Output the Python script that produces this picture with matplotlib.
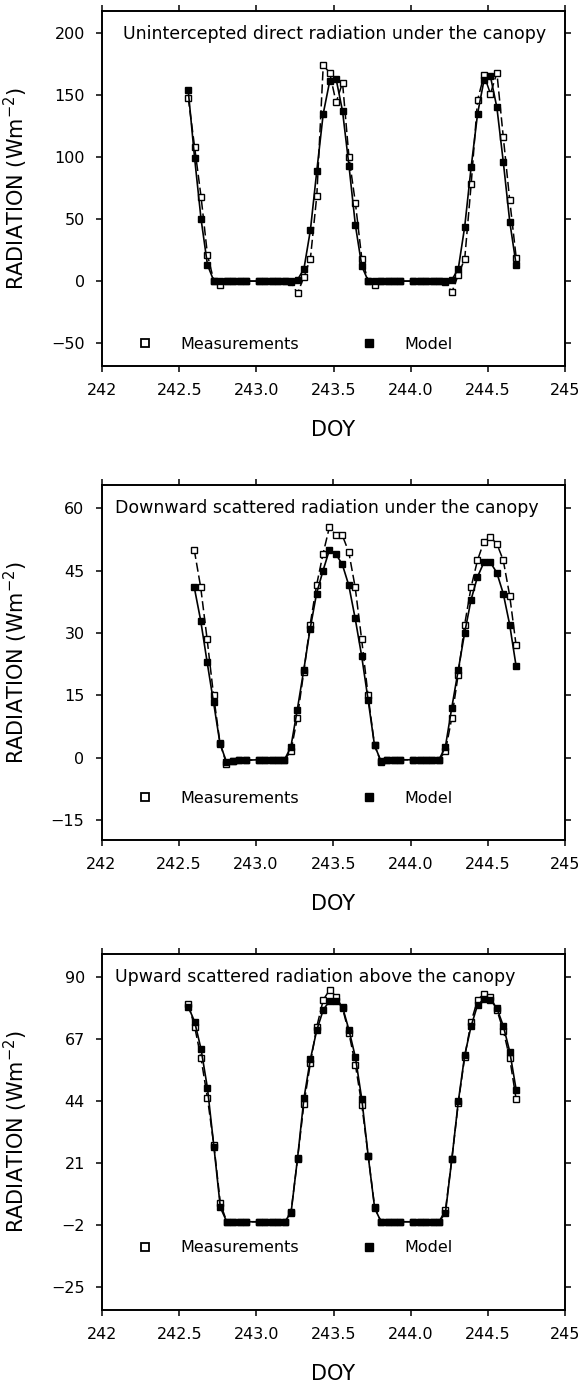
import numpy as np
import matplotlib
matplotlib.use("Agg")
import matplotlib.pyplot as plt
from matplotlib.lines import Line2D

plt.rcParams['font.family'] = ['DejaVu Sans']

# hours since start of DOY 242 (hourly, a few night hours missing)
hours = [13.4, 14.4, 15.4, 16.4, 17.4, 18.4, 19.4, 20.4, 21.4, 22.4,
         24.4, 25.4, 26.4, 27.4, 28.4, 29.4, 30.4, 31.4, 32.4, 33.4,
         34.4, 35.4, 36.4, 37.4, 38.4, 39.4, 40.4, 41.4, 42.4, 43.4,
         44.4, 45.4, 46.4,
         48.4, 49.4, 50.4, 51.4, 52.4, 53.4, 54.4, 55.4, 56.4, 57.4,
         58.4, 59.4, 60.4, 61.4, 62.4, 63.4, 64.4]
doy = 242 + np.array(hours) / 24.0

# unintercepted direct radiation under the canopy
direct_meas = [148, 108, 68, 21, 0, -3, 0, 0, 0, 0,
               0, 0, 0, 0, 0, -1, -10, 3.5, 18, 69,
               174, 168, 144, 160, 100, 63, 18, 0, -3, 0,
               0, 0, 0,
               0, 0, 0, 0, 0, -1, -9, 5, 18, 78,
               146, 166, 151, 168, 116, 65, 19]
direct_model = [154, 99, 50, 13, 0, 0, 0, 0, 0, 0,
                0, 0, 0, 0, 0, 0, 1, 10, 41, 89,
                135, 161, 163, 137, 93, 45, 12, 0, 0, 0,
                0, 0, 0,
                0, 0, 0, 0, 0, 0, 1, 10, 44, 92,
                135, 162, 165, 140, 96, 48, 13]

# downward scattered radiation under the canopy
down_meas = [np.nan, 50, 41, 28.5, 15, 3.5, -1.4, -0.7, -0.6, -0.6,
             -0.5, -0.5, -0.5, -0.5, -0.5, 1.5, 9.5, 20.5, 32, 41.5,
             49, 55.5, 53.5, 53.5, 49.5, 41, 28.5, 15, 3, -1,
             -0.6, -0.6, -0.5,
             -0.5, -0.5, -0.5, -0.5, -0.5, 1.5, 9.5, 20, 32, 41,
             47.5, 52, 53, 51.5, 47.5, 39, 27]
down_model = [np.nan, 41, 33, 23, 13.3, 3.4, -1, -0.7, -0.6, -0.6,
              -0.5, -0.5, -0.5, -0.5, -0.5, 2.5, 11.5, 21, 31, 39.5,
              45, 50, 49, 46.5, 41.5, 33.5, 24.5, 14, 3, -0.8,
              -0.6, -0.6, -0.5,
              -0.5, -0.5, -0.5, -0.5, -0.5, 2.5, 12, 21, 30, 38,
              43.5, 47, 47, 44.5, 39.5, 32, 22]

# upward scattered radiation above the canopy
up_meas = [80, 71.6, 59.8, 45, 27.5, 6, -0.8, -0.8, -0.8, -0.8,
           -0.8, -0.8, -0.8, -0.8, -0.8, 3, 22.5, 43, 58, 71.6,
           81.5, 85.2, 82.7, 78.4, 69.1, 57.4, 42.5, 23.5, 4.5, -0.8,
           -0.8, -0.8, -0.8,
           -0.8, -0.8, -0.8, -0.8, -0.8, 3.5, 22.5, 43.2, 60.4, 73.4,
           81.5, 83.7, 82.5, 77.8, 70.1, 59.8, 44.6]
up_model = [79, 73.4, 63.2, 48.7, 27, 4.5, -0.8, -0.8, -0.8, -0.8,
            -0.8, -0.8, -0.8, -0.8, -0.8, 2.6, 22.7, 45, 59.5, 70.3,
            77.8, 81.1, 81, 78.8, 70.3, 60.2, 44.6, 23.4, 4.2, -0.8,
            -0.8, -0.8, -0.8,
            -0.8, -0.8, -0.8, -0.8, -0.8, 2.5, 22.5, 43.8, 61, 71.8,
            79.6, 81.7, 81.5, 78.4, 71.8, 62.3, 48.1]

titles = ["Unintercepted direct radiation under the canopy",
          "Downward scattered radiation under the canopy",
          "Upward scattered radiation above the canopy"]
yticks_all = [[-50, 0, 50, 100, 150, 200],
              [-15, 0, 15, 30, 45, 60],
              [-25, -2, 21, 44, 67, 90]]
ylims = [(-68.5, 217.7), (-19.8, 65.6), (-33.5, 98.5)]
xticks = [242, 242.5, 243, 243.5, 244, 244.5, 245]
xticklabels = ['242', '242.5', '243.0', '243.5', '244.0', '244.5', '245']

meas_all = [direct_meas, down_meas, up_meas]
model_all = [direct_model, down_model, up_model]

# axes boxes (figure fraction) and legend heights inside each panel
boxes = [[0.1762, 0.7357, 0.7997, 0.2563],
         [0.1754, 0.3935, 0.8005, 0.2563],
         [0.1762, 0.0542, 0.7997, 0.2570]]
legend_y = [0.062, 0.118, 0.174]
title_x = [0.045, 0.029, 0.029]

fig = plt.figure(figsize=(5.79, 13.85), dpi=100)

for i in range(3):
    ax = fig.add_axes(boxes[i])
    ax.plot(doy, meas_all[i], ls=(0, (6, 2.5)), color='black', lw=1.1,
            marker='s', ms=4.5, mfc='white', mec='black', mew=1.0)
    ax.plot(doy, model_all[i], ls='-', color='black', lw=1.2,
            marker='s', ms=4.5, mfc='black', mec='black')

    ax.set_xlim(242, 245)
    ax.set_ylim(ylims[i])
    ax.set_xticks(xticks)
    ax.set_xticklabels(xticklabels)
    ax.set_yticks(yticks_all[i])
    ax.tick_params(direction='out', length=4.3, width=1.1, labelsize=11.5,
                   top=True, right=True, pad=8)
    for s in ax.spines.values():
        s.set_linewidth(1.4)

    ax.text(title_x[i], 0.935, titles[i], transform=ax.transAxes,
            va='center', ha='left', fontsize=12.5)

    handles = [Line2D([], [], ls='none', marker='s', ms=6, mfc='white',
                      mec='black', mew=1.3),
               Line2D([], [], ls='none', marker='s', ms=6, mfc='black',
                      mec='black')]
    ax.legend(handles, ['Measurements', 'Model'], loc='center left',
              bbox_to_anchor=(0.076, legend_y[i]), ncol=2, frameon=False,
              fontsize=11.5, handlelength=1.0, handletextpad=1.7,
              columnspacing=3.9, borderpad=0, borderaxespad=0)

    ax.set_ylabel(r'RADIATION (Wm$^{-2}$)', fontsize=15)
    ax.yaxis.set_label_coords(-0.155, 0.5)
    ax.set_xlabel('DOY', fontsize=15)
    ax.xaxis.set_label_coords(0.5, -0.152)

fig.savefig('out.png', dpi=100)
